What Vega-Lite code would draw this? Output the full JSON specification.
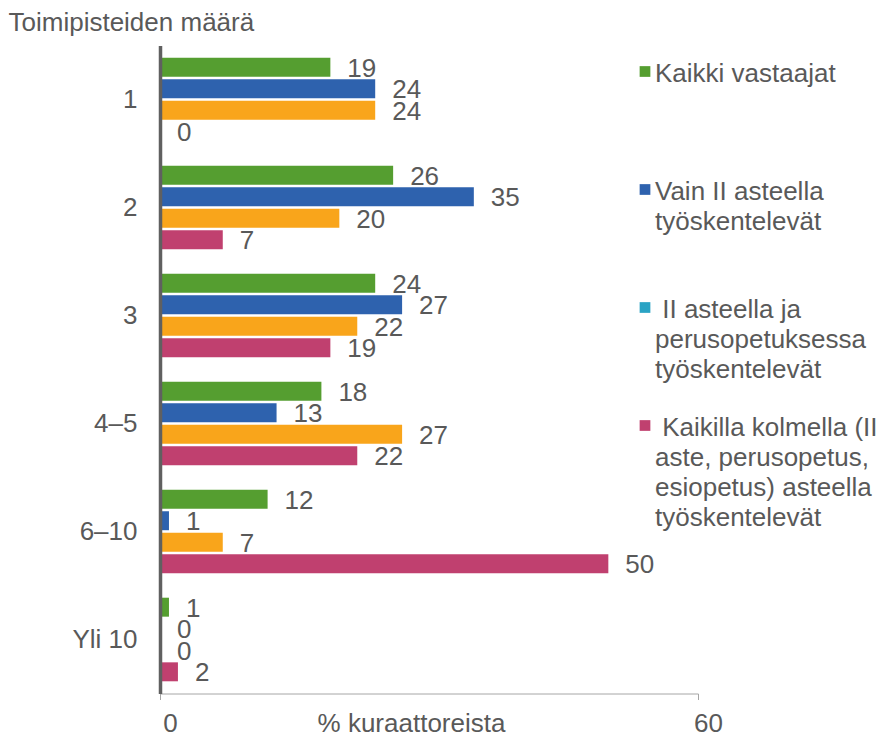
{
  "$schema": "https://vega.github.io/schema/vega-lite/v6.json",
  "width": 538,
  "height": 648,
  "autosize": "none",
  "padding": {"left": 160, "top": 45.5, "right": 193, "bottom": 44.5},
  "background": "white",
  "config": {
    "font": "Liberation Sans",
    "view": {"stroke": null}
  },
  "data": {
    "values": [
      {"luokka": "1", "ryhmä": "Kaikki vastaajat", "arvo": 19},
      {"luokka": "1", "ryhmä": "Vain II asteella työskentelevät", "arvo": 24},
      {"luokka": "1", "ryhmä": "II asteella ja perusopetuksessa työskentelevät", "arvo": 24},
      {"luokka": "1", "ryhmä": "Kaikilla kolmella (II aste, perusopetus, esiopetus) asteella työskentelevät", "arvo": 0},
      {"luokka": "2", "ryhmä": "Kaikki vastaajat", "arvo": 26},
      {"luokka": "2", "ryhmä": "Vain II asteella työskentelevät", "arvo": 35},
      {"luokka": "2", "ryhmä": "II asteella ja perusopetuksessa työskentelevät", "arvo": 20},
      {"luokka": "2", "ryhmä": "Kaikilla kolmella (II aste, perusopetus, esiopetus) asteella työskentelevät", "arvo": 7},
      {"luokka": "3", "ryhmä": "Kaikki vastaajat", "arvo": 24},
      {"luokka": "3", "ryhmä": "Vain II asteella työskentelevät", "arvo": 27},
      {"luokka": "3", "ryhmä": "II asteella ja perusopetuksessa työskentelevät", "arvo": 22},
      {"luokka": "3", "ryhmä": "Kaikilla kolmella (II aste, perusopetus, esiopetus) asteella työskentelevät", "arvo": 19},
      {"luokka": "4–5", "ryhmä": "Kaikki vastaajat", "arvo": 18},
      {"luokka": "4–5", "ryhmä": "Vain II asteella työskentelevät", "arvo": 13},
      {"luokka": "4–5", "ryhmä": "II asteella ja perusopetuksessa työskentelevät", "arvo": 27},
      {"luokka": "4–5", "ryhmä": "Kaikilla kolmella (II aste, perusopetus, esiopetus) asteella työskentelevät", "arvo": 22},
      {"luokka": "6–10", "ryhmä": "Kaikki vastaajat", "arvo": 12},
      {"luokka": "6–10", "ryhmä": "Vain II asteella työskentelevät", "arvo": 1},
      {"luokka": "6–10", "ryhmä": "II asteella ja perusopetuksessa työskentelevät", "arvo": 7},
      {"luokka": "6–10", "ryhmä": "Kaikilla kolmella (II aste, perusopetus, esiopetus) asteella työskentelevät", "arvo": 50},
      {"luokka": "Yli 10", "ryhmä": "Kaikki vastaajat", "arvo": 1},
      {"luokka": "Yli 10", "ryhmä": "Vain II asteella työskentelevät", "arvo": 0},
      {"luokka": "Yli 10", "ryhmä": "II asteella ja perusopetuksessa työskentelevät", "arvo": 0},
      {"luokka": "Yli 10", "ryhmä": "Kaikilla kolmella (II aste, perusopetus, esiopetus) asteella työskentelevät", "arvo": 2}
    ]
  },
  "encoding": {
    "y": {
      "field": "luokka",
      "type": "nominal",
      "sort": ["1", "2", "3", "4–5", "6–10", "Yli 10"],
      "scale": {"paddingInner": 0.226, "paddingOuter": 0.113},
      "axis": {
        "title": "Toimipisteiden määrä",
        "titleAngle": 0,
        "titleX": -152,
        "titleY": -23.5,
        "titleAlign": "left",
        "titleBaseline": "middle",
        "titleFontSize": 26,
        "titleFontWeight": "normal",
        "titleColor": "#595959",
        "labelFontSize": 26,
        "labelColor": "#595959",
        "labelPadding": 23,
        "labelAngle": 0,
        "ticks": false,
        "domainColor": "#606060",
        "domainWidth": 3.5,
        "zindex": 1
      }
    },
    "yOffset": {
      "field": "ryhmä",
      "type": "nominal",
      "sort": [
        "Kaikki vastaajat",
        "Vain II asteella työskentelevät",
        "II asteella ja perusopetuksessa työskentelevät",
        "Kaikilla kolmella (II aste, perusopetus, esiopetus) asteella työskentelevät"
      ],
      "scale": {"paddingInner": 0.12, "paddingOuter": 0}
    },
    "x": {
      "field": "arvo",
      "type": "quantitative",
      "scale": {"domain": [0, 60], "nice": false},
      "axis": {
        "title": "% kuraattoreista",
        "values": [0, 60],
        "grid": false,
        "tickSize": 6,
        "tickColor": "#a6a6a6",
        "domainColor": "#a6a6a6",
        "domainWidth": 1,
        "labelFontSize": 26,
        "labelColor": "#595959",
        "labelPadding": 24,
        "labelBaseline": "middle",
        "labelOffset": 10,
        "labelFlush": false,
        "titleX": 251,
        "titleY": 30,
        "titleAlign": "center",
        "titleBaseline": "middle",
        "titleFontSize": 26,
        "titleFontWeight": "normal",
        "titleColor": "#595959"
      }
    }
  },
  "layer": [
    {
      "mark": {"type": "bar"},
      "encoding": {
        "color": {
          "field": "ryhmä",
          "type": "nominal",
          "scale": {
            "domain": [
              "Kaikki vastaajat",
              "Vain II asteella työskentelevät",
              "II asteella ja perusopetuksessa työskentelevät",
              "Kaikilla kolmella (II aste, perusopetus, esiopetus) asteella työskentelevät"
            ],
            "range": ["#559e30", "#2e62ae", "#f9a51b", "#c0406f"]
          },
          "legend": null
        }
      }
    },
    {
      "mark": {"type": "text", "align": "left", "baseline": "middle", "dx": 17, "dy": 1.5, "fontSize": 26, "color": "#595959"},
      "encoding": {"text": {"field": "arvo", "type": "quantitative"}}
    },
    {
      "mark": {"type": "square", "opacity": 0, "size": 1},
      "encoding": {
        "color": {
          "field": "ryhmä",
          "type": "nominal",
          "scale": {
            "domain": [
              "Kaikki vastaajat",
              "Vain II asteella työskentelevät",
              "II asteella ja perusopetuksessa työskentelevät",
              "Kaikilla kolmella (II aste, perusopetus, esiopetus) asteella työskentelevät"
            ],
            "range": ["#559e30", "#2e62ae", "#2aa3c4", "#c0406f"]
          },
          "legend": {
            "title": null,
            "orient": "none",
            "legendX": 472,
            "legendY": 13,
            "padding": 0,
            "symbolType": "square",
            "symbolSize": 115,
            "symbolStrokeWidth": 0,
            "symbolOpacity": 1,
            "labelFontSize": 26,
            "labelColor": "#595959",
            "labelFont": "Liberation Sans",
            "labelLimit": 400,
            "labelOffset": -3,
            "labelBaseline": "top",
            "gridAlign": "all",
            "rowPadding": -2.5,
            "labelExpr": "datum.value == 'Vain II asteella työskentelevät' ? ['Vain II asteella', 'työskentelevät'] : datum.value == 'II asteella ja perusopetuksessa työskentelevät' ? ['\u200b\u00a0II asteella ja', 'perusopetuksessa', 'työskentelevät'] : datum.value == 'Kaikki vastaajat' ? 'Kaikki vastaajat' : ['\u200b\u00a0Kaikilla kolmella (II', 'aste, perusopetus,', 'esiopetus) asteella', 'työskentelevät']",
            "encode": {
              "labels": {"update": {"dy": {"value": -11}, "lineHeight": {"value": 30}}}
            }
          }
        }
      }
    }
  ],
  "resolve": {"scale": {"color": "independent"}}
}
